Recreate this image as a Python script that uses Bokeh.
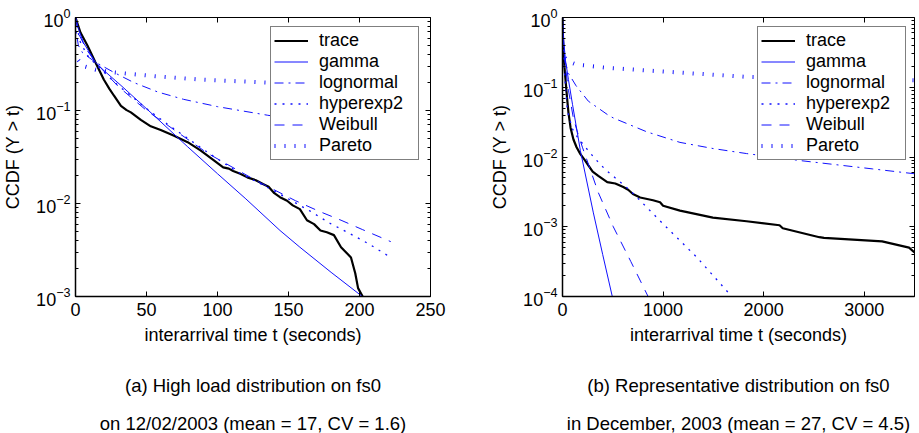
from bokeh.plotting import figure
from bokeh.models import (FixedTicker, LinearAxis, LogAxis, Legend, LegendItem,
                          Title, Range1d)
from bokeh.layouts import row
from bokeh.embed import file_html
from bokeh.resources import INLINE

FONT = "Liberation Sans"
BLUE = "#1010ff"

# ---------------- panel (a): high load, fs0, 12/02/2003 ----------------
a_trace_t = [0, 3.5, 8.4, 14, 20, 24, 27, 32, 36, 39, 46, 53, 60, 69, 79, 88, 97, 104, 108,
             111, 116, 121, 127, 132, 136, 140, 144, 149, 153, 158, 163, 168, 172.5, 177,
             182, 187, 194, 197, 199, 203]
a_trace_y = [1.0, 0.69, 0.50, 0.33, 0.214, 0.17, 0.145, 0.112, 0.101, 0.0955, 0.0794,
             0.0676, 0.0617, 0.0537, 0.0457, 0.0372, 0.0295, 0.0245, 0.0237, 0.0224,
             0.0209, 0.0191, 0.0178, 0.0162, 0.0151, 0.0129, 0.0117, 0.0107, 0.00955,
             0.0087, 0.0066, 0.0060, 0.00513, 0.00490, 0.00457, 0.00339, 0.00263, 0.00178,
             0.00123, 0.00095]
a_gamma_t = [0, 2, 5.6, 10, 14, 20, 32, 55, 79, 100, 120, 144, 158, 180, 202]
a_gamma_y = [1.0, 0.76, 0.537, 0.417, 0.331, 0.269, 0.186, 0.0891, 0.0407, 0.0209,
             0.0112, 0.00513, 0.00339, 0.00182, 0.001]
a_logn_t = [0, 0.5, 2, 5, 14, 27, 41, 58, 76, 100, 135, 180, 222]
a_logn_y = [1.0, 0.708, 0.501, 0.417, 0.331, 0.257, 0.2, 0.158, 0.132, 0.110, 0.0891,
            0.0692, 0.055]
a_hyp_t = [0, 3, 8, 14, 30, 50, 65, 93, 104, 114, 128, 144, 165, 180, 191.5, 206, 222]
a_hyp_y = [1.0, 0.562, 0.398, 0.316, 0.186, 0.105, 0.0708, 0.0355, 0.0275, 0.0219,
           0.017, 0.0126, 0.00832, 0.00603, 0.0049, 0.00372, 0.00263]
a_weib_t = [0, 3, 8, 14, 30, 50, 65, 93, 114, 128, 155, 172.5, 187, 202, 222]
a_weib_y = [1.0, 0.631, 0.447, 0.331, 0.182, 0.1, 0.0692, 0.0347, 0.0229, 0.0174,
            0.0107, 0.00813, 0.00661, 0.00525, 0.00389]
a_par_t = [2, 5, 14, 27, 56, 90, 135, 222]
a_par_y = [0.347, 0.302, 0.275, 0.257, 0.234, 0.214, 0.2, 0.182]

# ---------------- panel (b): representative, fs0, December 2003 ----------------
b_trace_t = [0, 3, 10, 20, 30, 45, 59, 80, 109, 140, 178, 220, 257, 300, 356, 445, 525,
             604, 653, 700, 772, 900, 970, 1000, 1168, 1495, 1830, 2158, 2190, 2554,
             2600, 3178, 3446, 3500]
b_trace_y = [1.0, 0.631, 0.316, 0.191, 0.129, 0.0708, 0.0437, 0.0263, 0.0178, 0.0138,
             0.0110, 0.00912, 0.00759, 0.00617, 0.00537, 0.00437, 0.00417, 0.00372,
             0.00339, 0.00295, 0.00263, 0.0024, 0.00224, 0.002, 0.0017, 0.00135, 0.0012,
             0.00105, 0.00095, 0.000708, 0.000692, 0.000617, 0.000501, 0.000427]
b_gamma_t = [0, 10, 30, 59, 100, 178, 307, 400, 495]
b_gamma_y = [1.0, 0.501, 0.24, 0.129, 0.0562, 0.0123, 0.00158, 0.000398, 0.0001]
b_logn_t = [0, 5, 15, 30, 60, 135, 257, 307, 455, 505, 840, 1168, 1500, 1830, 2356, 3080,
            3500]
b_logn_y = [1.0, 0.501, 0.316, 0.224, 0.158, 0.105, 0.0631, 0.0562, 0.0398, 0.0363,
            0.0229, 0.0162, 0.0132, 0.0112, 0.00891, 0.00676, 0.00575]
b_hyp_t = [0, 10, 25, 50, 100, 150, 228, 327, 426, 525, 673, 1000, 1337, 1683]
b_hyp_y = [1.0, 0.316, 0.126, 0.0447, 0.0251, 0.0191, 0.0138, 0.00933, 0.00661, 0.00501,
           0.00331, 0.0011, 0.000363, 0.0001]
b_weib_t = [0, 10, 30, 60, 109, 150, 198, 257, 356, 505, 680, 851]
b_weib_y = [1.0, 0.398, 0.191, 0.0891, 0.0355, 0.0224, 0.0138, 0.00794, 0.00309, 0.001,
            0.000316, 0.0001]
b_par_t = [25, 60, 129, 178, 426, 840, 1830, 3500]
b_par_y = [0.263, 0.234, 0.214, 0.209, 0.191, 0.174, 0.141, 0.126]

series_names = ["trace", "gamma", "lognormal", "hyperexp2", "Weibull", "Pareto"]

a_xticks = [0, 50, 100, 150, 200, 250]
a_yticks = [1e-3, 1e-2, 1e-1, 1e0]
b_xticks = [0, 1000, 2000, 3000]
b_yticks = [1e-4, 1e-3, 1e-2, 1e-1, 1e0]

caption_a = ["(a) High load distribution on fs0", "on 12/02/2003 (mean = 17, CV = 1.6)"]
caption_b = ["(b) Representative distribution on fs0",
             "in December, 2003 (mean = 27, CV = 4.5)"]


def minor_log(decades):
    out = []
    for d in decades[:-1]:
        out += [k * d for k in range(2, 10)]
    return out


def panel(fw, ml, mr, xmax, ymin, xticks, yticks, data, caps):
    p = figure(frame_width=fw, frame_height=279, x_range=Range1d(0, xmax),
               y_range=Range1d(ymin, 1.0), y_axis_type="log",
               min_border_left=ml, min_border_right=mr, min_border_top=17,
               min_border_bottom=137, output_backend="svg", toolbar_location=None)
    p.grid.visible = False
    p.outline_line_color = "black"
    p.outline_line_width = 1
    p.background_fill_color = "white"

    xt = FixedTicker(ticks=xticks, minor_ticks=[])
    yt = FixedTicker(ticks=yticks, minor_ticks=minor_log(yticks))

    for ax in p.xaxis:
        ax.ticker = xt
        ax.axis_label = "interarrival time t (seconds)"
        ax.axis_label_standoff = 6
        ax.major_label_standoff = 6
    for ax in p.yaxis:
        ax.ticker = yt
        ax.axis_label = "CCDF (Y > t)"
        ax.axis_label_standoff = 10
        ax.major_label_standoff = 5
    for ax in list(p.xaxis) + list(p.yaxis):
        ax.major_tick_in = 5
        ax.major_tick_out = 0
        ax.minor_tick_in = 3
        ax.minor_tick_out = 0
        ax.axis_line_width = 1.5
        ax.axis_line_color = "black"
        ax.major_tick_line_color = "black"
        ax.minor_tick_line_color = "black"
        ax.major_label_text_font = FONT
        ax.major_label_text_font_size = "18px"
        ax.major_label_text_color = "black"
        ax.axis_label_text_font = FONT
        ax.axis_label_text_font_size = "18px"
        ax.axis_label_text_font_style = "normal"
        ax.axis_label_text_color = "black"

    top = LinearAxis(ticker=xt, major_label_overrides={t: "" for t in xticks},
                     major_label_standoff=0, major_tick_in=5, major_tick_out=0,
                     axis_line_color=None, minor_tick_line_color=None,
                     major_label_text_font_size="6px")
    right = LogAxis(ticker=yt, major_label_overrides={t: "" for t in yticks},
                    major_label_standoff=0, major_tick_in=5, major_tick_out=0,
                    minor_tick_in=3, minor_tick_out=0, axis_line_color=None,
                    major_label_text_font_size="6px")
    p.add_layout(top, "above")
    p.add_layout(right, "right")

    (tr_t, tr_y), (g_t, g_y), (l_t, l_y), (h_t, h_y), (w_t, w_y), (pa_t, pa_y) = data
    r_tr = p.line(tr_t, tr_y, line_color="black", line_width=2.2)
    r_g = p.line(g_t, g_y, line_color=BLUE, line_width=1)
    r_l = p.line(l_t, l_y, line_color=BLUE, line_width=1, line_dash="9 5 2 5")
    r_h = p.line(h_t, h_y, line_color=BLUE, line_width=1.3, line_dash="2 6")
    r_w = p.line(w_t, w_y, line_color=BLUE, line_width=1, line_dash="10 8")
    r_p = p.line(pa_t, pa_y, line_color=BLUE, line_width=4, line_dash="1 9",
                 line_cap="butt")
    rends = [r_tr, r_g, r_l, r_h, r_w, r_p]

    leg = Legend(items=[LegendItem(label=n, renderers=[r]) for n, r in zip(series_names, rends)],
                 location=(195, 136))
    leg.border_line_color = "black"
    leg.border_line_width = 1
    leg.background_fill_color = "white"
    leg.background_fill_alpha = 1.0
    leg.label_text_font = FONT
    leg.label_text_font_size = "18px"
    leg.label_text_color = "black"
    leg.glyph_width = 34
    leg.glyph_height = 21
    leg.label_height = 21
    leg.label_width = 96
    leg.label_standoff = 11
    leg.spacing = 0
    leg.padding = 3
    leg.margin = 0
    p.add_layout(leg)

    for txt, so in zip(caps, [51, -21]):
        p.add_layout(Title(text=txt, align="center", text_font=FONT,
                           text_font_size="18.5px", text_font_style="normal",
                           text_color="black", standoff=so),
                     "below")
    return p


pa = panel(355, 75, 50, 250, 1e-3, a_xticks, a_yticks,
           [(a_trace_t, a_trace_y), (a_gamma_t, a_gamma_y), (a_logn_t, a_logn_y),
            (a_hyp_t, a_hyp_y), (a_weib_t, a_weib_y), (a_par_t, a_par_y)],
           caption_a)
pb = panel(352, 82, 5, 3500, 1e-4, b_xticks, b_yticks,
           [(b_trace_t, b_trace_y), (b_gamma_t, b_gamma_y), (b_logn_t, b_logn_y),
            (b_hyp_t, b_hyp_y), (b_weib_t, b_weib_y), (b_par_t, b_par_y)],
           caption_b)

layout = row(pa, pb)
open("out.html", "w").write(file_html(layout, INLINE))
